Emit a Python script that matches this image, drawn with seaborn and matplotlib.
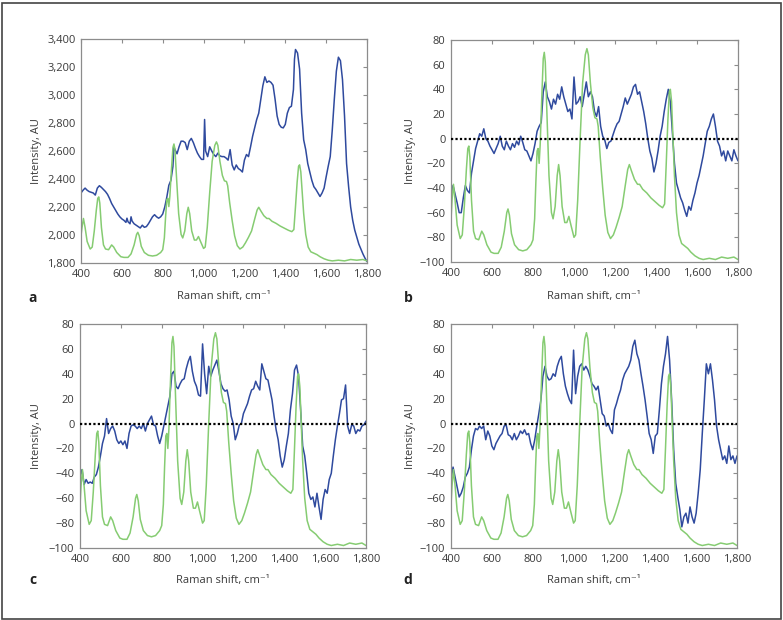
import numpy as np
import pandas as pd
import matplotlib
matplotlib.use("Agg")
import matplotlib.pyplot as plt
from matplotlib.ticker import FuncFormatter, MultipleLocator
from matplotlib.patches import Rectangle
import seaborn as sns

# ---------------- data ----------------
green_x = [400, 405, 412, 420, 430, 445, 455, 465, 475, 482, 487, 492, 500, 510, 520, 535, 550, 560, 575, 595,
           610, 630, 645, 660, 672, 678, 685, 695, 710, 730, 750, 770, 790, 800, 808, 814, 820, 825, 830, 835,
           842, 850, 855, 860, 868, 878, 890, 898, 908, 918, 925, 932, 942, 955, 965, 975, 985, 1000, 1008, 1018,
           1030, 1042, 1055, 1063, 1070, 1080, 1092, 1102, 1112, 1118, 1128, 1140, 1152, 1165, 1178, 1192, 1205,
           1220, 1235, 1250, 1262, 1270, 1280, 1295, 1310, 1320, 1335, 1355, 1375, 1395, 1415, 1432, 1442, 1450,
           1458, 1465, 1470, 1476, 1483, 1490, 1500, 1512, 1525, 1540, 1555, 1570, 1590, 1610, 1630, 1660, 1690,
           1720, 1750, 1780, 1800]

# reference spectrum on the difference scale (panels b, c, d)
green_diff = [-66, -50, -37, -50, -70, -81, -78, -55, -25, -8, -6, -15, -50, -75, -81, -82, -75, -78, -86, -92,
              -93, -93, -88, -75, -60, -57, -62, -77, -86, -90, -91, -90, -86, -82, -65, -35, -10, -8, -20, -5,
              30, 65, 70, 62, 20, -30, -60, -65, -55, -30, -21, -30, -55, -68, -68, -63, -70, -80, -78, -50,
              0, 45, 68, 73, 68, 45, 25, 17, 16, 10, -15, -40, -62, -76, -81, -78, -72,
              -64, -55, -38, -25, -21, -26, -33, -37, -37, -41, -44, -48, -51, -54, -56, -53, -20,
              15, 38, 40, 30, 0, -30, -60, -78, -85, -87, -89, -92, -95, -97, -98, -97, -98,
              -96, -97, -96, -98]

# reference spectrum on the intensity scale (panel a)
green_a = [1995, 2054, 2118, 2054, 1954, 1900, 1914, 2029, 2178, 2262, 2272, 2228, 2054, 1929, 1900, 1895, 1929, 1914, 1875, 1845,
           1840, 1840, 1865, 1929, 2004, 2019, 1994, 1919, 1875, 1855, 1850, 1855, 1875, 1895, 1979, 2128, 2252, 2262, 2203, 2277,
           2451, 2625, 2650, 2610, 2401, 2153, 2004, 1979, 2029, 2153, 2198, 2153, 2029, 1964, 1964, 1989, 1954, 1904, 1914, 2054,
           2302, 2526, 2640, 2665, 2640, 2526, 2426, 2387, 2382, 2352, 2228, 2103, 1994, 1924, 1900, 1914, 1944,
           1984, 2029, 2113, 2178, 2198, 2173, 2138, 2118, 2118, 2098, 2083, 2064, 2049, 2034, 2024, 2039, 2203,
           2377, 2491, 2501, 2451, 2302, 2153, 2004, 1914, 1880, 1870, 1860, 1845, 1830, 1820, 1815, 1820, 1815,
           1825, 1820, 1825, 1815]

blue_a_x = [400, 410, 420, 430, 440, 450, 460, 470, 480, 490, 500, 510, 520, 530, 540, 550, 560, 570, 580, 590,
            600, 610, 620, 625, 630, 640, 645, 650, 660, 670, 680, 690, 700, 710, 720, 730, 740, 750, 760, 770,
            780, 790, 800, 810, 820, 830, 840, 850, 855, 860, 870, 880, 890, 900, 910, 920, 930, 940, 950, 960,
            970, 980, 990, 1000, 1005, 1010, 1020, 1030, 1040, 1050, 1060, 1070, 1080, 1090, 1100, 1110, 1120,
            1130, 1140, 1150, 1160, 1170, 1180, 1190, 1200, 1210, 1220, 1230, 1240, 1250, 1260, 1270, 1280, 1290,
            1300, 1310, 1320, 1330, 1340, 1350, 1360, 1370, 1380, 1390, 1400, 1410, 1420, 1430, 1440, 1445, 1450,
            1460, 1470, 1480, 1490, 1500, 1510, 1520, 1530, 1540, 1550, 1560, 1570, 1580, 1590, 1600, 1610, 1620,
            1630, 1640, 1650, 1660, 1670, 1680, 1690, 1700, 1710, 1720, 1730, 1740, 1750, 1760, 1770, 1780, 1790,
            1800]
blue_a = [2300, 2320, 2335, 2320, 2310, 2305, 2300, 2285, 2335, 2352, 2340, 2325, 2310, 2290, 2260, 2225, 2200, 2175, 2150, 2130,
          2115, 2105, 2090, 2120, 2095, 2080, 2130, 2100, 2080, 2070, 2060, 2050, 2070, 2055, 2060, 2080, 2105, 2130, 2145, 2130,
          2120, 2130, 2150, 2200, 2270, 2355, 2390, 2490, 2630, 2610, 2580, 2630, 2670, 2670, 2660, 2610, 2670, 2690, 2660, 2620,
          2585, 2560, 2540, 2540, 2825, 2600, 2560, 2630, 2600, 2575, 2560, 2585, 2565, 2560, 2560, 2550, 2535,
          2610, 2500, 2465, 2500, 2475, 2465, 2450, 2535, 2575, 2560, 2630, 2705, 2765, 2825, 2870, 2970, 3065,
          3130, 3090, 3100, 3090, 3070, 2970, 2850, 2790, 2770, 2765, 2790, 2870, 2910, 2920, 3040, 3255, 3325,
          3300, 3185, 2870, 2680, 2610, 2510, 2450, 2390, 2345, 2325, 2300, 2275, 2300, 2335, 2415, 2490, 2560,
          2750, 2970, 3170, 3270, 3245, 3110, 2850, 2510, 2345, 2200, 2105, 2035, 1985, 1935, 1900, 1865, 1835,
          1810]

diff_x = list(range(400, 1801, 10))
blue_b = [-48, -38, -45, -52, -60, -60, -48, -38, -42, -44, -28, -18, -8, -2, 4, 2, 8, 0, -2, -6,
          -9, -12, -8, -4, 2, -6, -9, -2, -6, -9, -4, -7, -2, -5, 2, -3, -9, -10, -14, -18,
          -12, -4, 6, 10, 13, 38, 46, 34, 30, 24, 32, 28, 36, 32, 42, 34, 28, 22, 24, 16,
          50, 28, 30, 34, 26, 36, 46, 34, 38, 34, 22, 18, 26, 10, 2, -1, -8, -3, -2, 3,
          8, 12, 14, 20, 26, 33, 28, 32, 36, 42, 44, 36, 38, 30, 22, 12, 0, -10, -16, -27,
          -20, -10, 2, 10, 22, 32, 40, 30, 5, -20, -36, -42, -48, -52, -58, -63, -55, -58, -50, -44,
          -36, -30, -22, -14, -4, 6, 10, 16, 20, 10, -2, -6, -14, -10, -18, -10, -14, -18, -9, -14,
          -18]
blue_c = [-43, -37, -49, -45, -48, -47, -48, -43, -41, -35, -26, -16, -10, 4, -8, -4, -2, -6, -13, -16,
          -14, -17, -14, -20, -8, -2, -1, -2, -4, -2, -4, 0, -6, 0, 3, 6, -1, -2, -10, -16,
          -10, -2, 6, 14, 22, 40, 42, 30, 28, 32, 35, 36, 44, 50, 54, 42, 34, 30, 23, 22,
          64, 40, 24, 46, 38, 43, 47, 51, 42, 32, 28, 26, 27, 19, 6, 0, -13, -8, -1, 0,
          8, 12, 16, 22, 27, 28, 34, 30, 27, 48, 42, 36, 35, 27, 19, 6, -5, -13, -26, -35,
          -29, -18, -8, 11, 24, 43, 47, 38, 11, -18, -26, -40, -56, -61, -59, -67, -56, -67, -77, -61,
          -53, -56, -45, -40, -26, -13, -2, 8, 19, 20, 31, -2, -8, -1, -2, -8, -5, -6, -2, -1,
          2]
blue_d = [-45, -35, -43, -51, -59, -56, -51, -43, -40, -35, -21, -10, -4, -5, -2, -4, -2, -13, -6, -10,
          -18, -21, -16, -13, -10, -8, -2, -1, -9, -10, -13, -8, -13, -10, -6, -8, -5, -9, -8, -16,
          -21, -13, -2, 8, 19, 38, 46, 38, 35, 36, 40, 38, 46, 51, 54, 40, 30, 24, 19, 16,
          59, 24, 38, 46, 48, 43, 46, 43, 38, 32, 30, 27, 30, 19, 8, 6, -2, 0, -5, -8,
          11, 16, 22, 27, 35, 40, 43, 46, 51, 62, 67, 56, 51, 40, 30, 19, 6, -8, -13, -24,
          -10, -8, 11, 32, 46, 56, 70, 51, 19, -21, -48, -59, -69, -83, -75, -72, -80, -67, -75, -80,
          -72, -56, -37, -8, 19, 48, 40, 48, 35, 19, -2, -13, -21, -29, -26, -32, -18, -29, -26, -32,
          -26]

x_ticks = [400, 600, 800, 1000, 1200, 1400, 1600, 1800]
a_ticks = [1800, 2000, 2200, 2400, 2600, 2800, 3000, 3200, 3400]
d_ticks = [-100, -80, -60, -40, -20, 0, 20, 40, 60, 80]
panel_letters = ["a", "b", "c", "d"]
x_label = "Raman shift, cm\u207b\u00b9"
y_label = "Intensity, AU"

# ---------------- styling ----------------
sns.set_style("white")
plt.rcParams["font.family"] = ["Open Sans", "DejaVu Sans"]
plt.rcParams["axes.unicode_minus"] = True

BLUE = "#2f4a9e"
GREEN = "#86cc72"
SPINE = "#8c8c8c"
TEXT = "#3a3a3a"

W, H = 783, 620
fig = plt.figure(figsize=(W / 100, H / 100), dpi=100)
fig.patch.set_facecolor("white")


def px_axes(l, t, r, b):
    return fig.add_axes([l / W, 1 - b / H, (r - l) / W, (b - t) / H])


ax_a = px_axes(81, 39, 367, 263)
ax_b = px_axes(451, 40, 738, 262)
ax_c = px_axes(80, 324, 366, 548)
ax_d = px_axes(451, 324, 737, 548)
axes = [ax_a, ax_b, ax_c, ax_d]

fmt = FuncFormatter(lambda v, p: f"{int(round(v)):,}".replace("-", "\u2212"))

# panel a
sns.lineplot(x=blue_a_x, y=blue_a, ax=ax_a, color=BLUE, lw=1.1, estimator=None)
sns.lineplot(x=green_x, y=green_a, ax=ax_a, color=GREEN, lw=1.1, estimator=None)
ax_a.set_ylim(1800, 3400)
ax_a.set_yticks(a_ticks)

for ax, blue in zip([ax_b, ax_c, ax_d], [blue_b, blue_c, blue_d]):
    sns.lineplot(x=diff_x, y=blue, ax=ax, color=BLUE, lw=1.1, estimator=None)
    sns.lineplot(x=green_x, y=green_diff, ax=ax, color=GREEN, lw=1.1, estimator=None)
    ax.axhline(0, color="black", lw=1.6, ls=(0, (1, 1)), zorder=5)
    ax.set_ylim(-100, 80)
    ax.set_yticks(d_ticks)

for ax in axes:
    ax.set_xlim(400, 1800)
    ax.set_xticks(x_ticks)
    ax.xaxis.set_major_formatter(fmt)
    ax.yaxis.set_major_formatter(fmt)
    ax.tick_params(direction="in", top=True, right=True, length=3, width=0.8,
                   color=SPINE, labelcolor=TEXT, labelsize=8, pad=4)
    for s in ax.spines.values():
        s.set_color(SPINE)
        s.set_linewidth(0.9)
    ax.set_xlabel("")
    ax.set_ylabel("")

# labels placed in pixel positions
def ftext(x, y, s, **kw):
    fig.text(x / W, 1 - y / H, s, **kw)

for (cx, ly), (yx, cy), (lx, lyy), letter in [
    ((224, 297), (36, 151), (33, 298), "a"),
    ((594, 297), (410, 151), (408, 298), "b"),
    ((223, 580), (36, 436), (33, 580), "c"),
    ((594, 580), (410, 436), (408, 580), "d"),
]:
    ftext(cx, ly, x_label, ha="center", va="center", fontsize=8, color=TEXT)
    ftext(yx, cy, y_label, ha="center", va="center", fontsize=8, color=TEXT, rotation=90)
    ftext(lx, lyy, letter, ha="center", va="center", fontsize=10, fontweight="bold", color="#222222")

fig.patches.append(Rectangle((1.5 / W, 1.5 / H), (W - 4) / W, (H - 4) / H,
                             transform=fig.transFigure, fill=False,
                             edgecolor="#444444", lw=1.2))

fig.savefig("out.png", dpi=100, facecolor="white")
